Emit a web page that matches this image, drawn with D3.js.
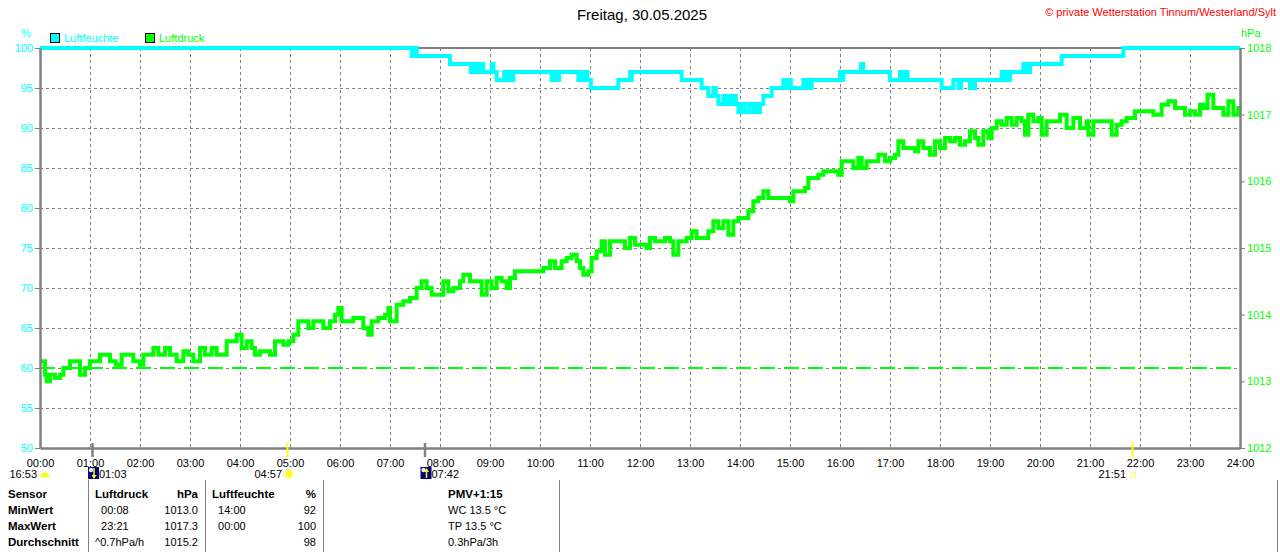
<!DOCTYPE html>
<html>
<head>
<meta charset="utf-8">
<script src="https://cdn.jsdelivr.net/npm/d3@7"></script>
<style>
  body { margin: 0; background: #fff; }
  svg { font-family: "Liberation Sans", Arial, sans-serif; display: block; }
  .grid line { stroke: #808080; stroke-width: 1; stroke-dasharray: 3,3; }
  .axis path, .axis line { stroke: #808080; }
  .axis text { font-size: 11px; }
  .table text { font-size: 11px; fill: #000; white-space: pre; }
  .table .bold { font-weight: bold; font-size: 11.5px; }
</style>
</head>
<body>
<svg id="chart" width="1280" height="552"></svg>
<script>
// ---- values ----
const titleText = 'Freitag, 30.05.2025';
const creditText = '\u00A9 private Wetterstation Tinnum/Westerland/Sylt';
const legendLabels = ['Luftfeuchte', 'Luftdruck'];

// humidity (%), each value holds from its time on
const humTimes = ['00:00', '07:26', '07:28', '07:30', '07:31', '07:32', '08:12', '08:37', '08:39', '08:41',
  '08:42', '08:44', '08:48', '08:52', '09:02', '09:04', '09:08', '09:17', '09:19', '09:23',
  '09:25', '09:28', '10:14', '10:17', '10:20', '10:23', '10:46', '10:49', '10:52', '10:55',
  '10:57', '11:01', '11:34', '11:48', '11:49', '11:50', '12:50', '13:14', '13:22', '13:28',
  '13:31', '13:34', '13:40', '13:43', '13:46', '13:49', '13:52', '13:55', '13:58', '14:02',
  '14:06', '14:11', '14:16', '14:19', '14:22', '14:24', '14:28', '14:38', '14:52', '14:54',
  '14:59', '15:01', '15:16', '15:18', '15:20', '15:24', '15:26', '16:00', '16:02', '16:04',
  '16:25', '16:28', '17:00', '17:12', '17:15', '17:18', '17:21', '18:02', '18:16', '18:22',
  '18:25', '18:36', '18:38', '18:40', '18:42', '19:14', '19:16', '19:19', '19:21', '19:24',
  '19:40', '19:42', '19:44', '19:46', '19:48', '20:26', '21:40', '24:00'];
const humValues = [100, 99, 100, 99, 100, 99, 98, 97, 98, 97,
  98, 97, 98, 97, 98, 97, 96, 97, 96, 97,
  96, 97, 96, 97, 96, 97, 96, 97, 96, 97,
  96, 95, 96, 97, 96, 97, 96, 95, 94, 95,
  94, 93, 94, 93, 94, 93, 94, 93, 92, 93,
  92, 93, 92, 93, 92, 93, 94, 95, 96, 95,
  96, 95, 96, 95, 96, 95, 96, 97, 96, 97,
  98, 97, 96, 97, 96, 97, 96, 95, 96, 95,
  96, 95, 96, 95, 96, 97, 96, 97, 96, 97,
  98, 97, 98, 97, 98, 99, 100, 100];

// air pressure (hPa)
const pressTimes = ['00:01', '00:06', '00:08', '00:12', '00:18', '00:24', '00:28', '00:36', '00:42', '00:48',
  '00:54', '01:00', '01:06', '01:12', '01:20', '01:24', '01:31', '01:38', '01:46', '01:52',
  '02:00', '02:04', '02:12', '02:16', '02:22', '02:30', '02:36', '02:44', '02:52', '02:58',
  '03:04', '03:12', '03:18', '03:26', '03:32', '03:38', '03:44', '03:52', '03:56', '04:02',
  '04:08', '04:14', '04:18', '04:24', '04:30', '04:36', '04:42', '04:52', '04:58', '05:04',
  '05:10', '05:16', '05:22', '05:28', '05:36', '05:40', '05:48', '05:54', '05:58', '06:02',
  '06:10', '06:16', '06:22', '06:28', '06:34', '06:38', '06:46', '06:54', '06:58', '07:00',
  '07:08', '07:16', '07:24', '07:32', '07:38', '07:44', '07:50', '07:58', '08:04', '08:10',
  '08:16', '08:24', '08:28', '08:36', '08:44', '08:50', '08:56', '09:02', '09:08', '09:14',
  '09:20', '09:24', '09:30', '09:36', '09:44', '09:52', '09:58', '10:04', '10:12', '10:18',
  '10:26', '10:32', '10:38', '10:44', '10:48', '10:52', '10:58', '11:02', '11:08', '11:14',
  '11:18', '11:24', '11:32', '11:38', '11:42', '11:48', '11:54', '12:02', '12:08', '12:12',
  '12:18', '12:24', '12:30', '12:36', '12:40', '12:46', '12:52', '12:56', '13:02', '13:08',
  '13:16', '13:22', '13:28', '13:34', '13:40', '13:46', '13:52', '13:58', '14:04', '14:10',
  '14:16', '14:22', '14:28', '14:34', '14:40', '14:48', '14:56', '15:00', '15:04', '15:12',
  '15:18', '15:22', '15:28', '15:34', '15:40', '15:48', '15:58', '16:02', '16:10', '16:16',
  '16:22', '16:26', '16:32', '16:40', '16:46', '16:54', '17:00', '17:06', '17:10', '17:16',
  '17:24', '17:30', '17:34', '17:40', '17:48', '17:54', '18:00', '18:06', '18:12', '18:18',
  '18:24', '18:30', '18:36', '18:42', '18:46', '18:52', '18:58', '19:02', '19:08', '19:14',
  '19:20', '19:26', '19:32', '19:38', '19:42', '19:46', '19:52', '19:58', '20:02', '20:08',
  '20:16', '20:24', '20:32', '20:40', '20:48', '20:56', '20:58', '21:04', '21:12', '21:20',
  '21:26', '21:32', '21:38', '21:44', '21:54', '22:02', '22:10', '22:16', '22:22', '22:26',
  '22:34', '22:42', '22:50', '22:54', '23:00', '23:06', '23:12', '23:16', '23:21', '23:28',
  '23:34', '23:40', '23:46', '23:52', '23:58', '24:00'];
const pressValues = [1013.3, 1013.1, 1013.0, 1013.1, 1013.05, 1013.1, 1013.2, 1013.3, 1013.3, 1013.1,
  1013.2, 1013.3, 1013.3, 1013.4, 1013.4, 1013.3, 1013.25, 1013.4, 1013.4, 1013.3,
  1013.25, 1013.4, 1013.4, 1013.5, 1013.4, 1013.5, 1013.4, 1013.3, 1013.45, 1013.4,
  1013.3, 1013.5, 1013.4, 1013.5, 1013.4, 1013.4, 1013.6, 1013.6, 1013.7, 1013.5,
  1013.6, 1013.5, 1013.4, 1013.45, 1013.45, 1013.4, 1013.6, 1013.55, 1013.6, 1013.7,
  1013.9, 1013.9, 1013.8, 1013.9, 1013.9, 1013.8, 1013.9, 1014.0, 1014.1, 1013.9,
  1013.9, 1013.95, 1013.95, 1013.8, 1013.7, 1013.9, 1013.95, 1014.0, 1014.1, 1013.9,
  1014.15, 1014.2, 1014.25, 1014.4, 1014.5, 1014.4, 1014.3, 1014.3, 1014.5, 1014.35,
  1014.4, 1014.5, 1014.6, 1014.5, 1014.5, 1014.3, 1014.5, 1014.4, 1014.55, 1014.5,
  1014.4, 1014.55, 1014.65, 1014.65, 1014.65, 1014.65, 1014.65, 1014.7, 1014.8, 1014.7,
  1014.8, 1014.85, 1014.9, 1014.8, 1014.7, 1014.6, 1014.65, 1014.85, 1014.95, 1015.1,
  1014.9, 1015.1, 1015.1, 1015.1, 1015.0, 1015.15, 1015.05, 1015.05, 1015.0, 1015.15,
  1015.1, 1015.1, 1015.15, 1015.1, 1014.9, 1015.1, 1015.1, 1015.15, 1015.25, 1015.15,
  1015.15, 1015.25, 1015.4, 1015.3, 1015.4, 1015.2, 1015.4, 1015.45, 1015.45, 1015.55,
  1015.7, 1015.75, 1015.85, 1015.75, 1015.75, 1015.75, 1015.75, 1015.7, 1015.85, 1015.85,
  1015.9, 1016.05, 1016.05, 1016.1, 1016.15, 1016.15, 1016.1, 1016.3, 1016.3, 1016.2,
  1016.35, 1016.2, 1016.3, 1016.3, 1016.4, 1016.3, 1016.35, 1016.4, 1016.6, 1016.5,
  1016.5, 1016.45, 1016.6, 1016.5, 1016.4, 1016.6, 1016.5, 1016.65, 1016.6, 1016.65,
  1016.55, 1016.6, 1016.75, 1016.65, 1016.55, 1016.75, 1016.65, 1016.8, 1016.9, 1016.85,
  1016.95, 1016.85, 1016.95, 1016.9, 1016.7, 1017.0, 1016.9, 1016.95, 1016.7, 1016.9,
  1016.9, 1017.0, 1016.8, 1016.95, 1016.8, 1016.9, 1016.7, 1016.9, 1016.9, 1016.9,
  1016.7, 1016.85, 1016.9, 1016.95, 1017.05, 1017.05, 1017.05, 1017.0, 1017.0, 1017.15,
  1017.2, 1017.1, 1017.1, 1017.0, 1017.05, 1017.0, 1017.15, 1017.1, 1017.3, 1017.1,
  1017.1, 1017.0, 1017.2, 1017.0, 1017.1, 1017.05];
const pressRef = 1013.2;

const hourTicks = d3.range(0, 25);
const humTicks = [50, 55, 60, 65, 70, 75, 80, 85, 90, 95, 100];
const pressTicks = [1012, 1013, 1014, 1015, 1016, 1017, 1018];

// sun / moon events under the time axis
const moonPrevTime = '16:53';
const astroTimes = ['01:03', '04:57', '07:42', '21:51'];
const astroKinds = ['moonset', 'sunrise', 'moonrise', 'sunset'];

// summary table
const tableRowLabels = ['Sensor', 'MinWert', 'MaxWert', 'Durchschnitt'];
const pressTableTimes = ['Luftdruck', '  00:08', '  23:21', '^0.7hPa/h'];
const pressTableValues = ['hPa', '1013.0', '1017.3', '1015.2'];
const humTableTimes = ['Luftfeuchte', '  14:00', '  00:00', ''];
const humTableValues = ['%', '92', '100', '98'];
const extraLines = ['PMV+1:15', 'WC 13.5 \u00B0C', 'TP 13.5 \u00B0C', '0.3hPa/3h'];

const parseTime = s => { const [h, m] = s.split(':').map(Number); return h * 60 + m; };

class WeatherDay {

    constructor(_config) {
        this.config = {
            parentElement: _config.parentElement,
            width: 1280,
            height: 552,
            margin: {top: 48, right: 40, bottom: 104, left: 40},
            humColor: '#00ffff',
            pressColor: '#00ff00',
            gridColor: '#808080'
        };
        this.initVis();
    }

    initVis() {
        let vis = this;
        const m = vis.config.margin;
        vis.innerW = vis.config.width - m.left - m.right;
        vis.innerH = vis.config.height - m.top - m.bottom;

        vis.humData = humTimes.map((t, i) => ({t: parseTime(t), v: humValues[i]}));
        vis.pressData = pressTimes.map((t, i) => ({t: parseTime(t), v: pressValues[i]}));

        vis.xScale = d3.scaleLinear().domain([0, 1440]).range([0, vis.innerW]);
        vis.yHum = d3.scaleLinear().domain([50, 100]).range([vis.innerH, 0]);
        vis.yPress = d3.scaleLinear().domain([1012, 1018]).range([vis.innerH, 0]);

        vis.svg = d3.select(vis.config.parentElement)
            .attr('width', vis.config.width)
            .attr('height', vis.config.height);

        vis.chart = vis.svg.append('g')
            .attr('transform', `translate(${m.left},${m.top})`);

        vis.renderVis();
        vis.renderHeader();
        vis.renderAstro();
        vis.renderTable();
    }

    renderVis() {
        let vis = this;
        const c = vis.config;

        // dashed grid
        const grid = vis.chart.append('g').attr('class', 'grid');
        grid.selectAll('.vgrid')
            .data(hourTicks.slice(1, -1))
            .join('line')
            .attr('x1', d => vis.xScale(d * 60) + 0.5).attr('x2', d => vis.xScale(d * 60) + 0.5)
            .attr('y1', 0).attr('y2', vis.innerH);
        grid.selectAll('.hgrid')
            .data(humTicks.slice(1, -1))
            .join('line')
            .attr('x1', 0).attr('x2', vis.innerW)
            .attr('y1', d => vis.yHum(d) + 0.5).attr('y2', d => vis.yHum(d) + 0.5);

        // top frame line
        vis.chart.append('line')
            .attr('x1', 0).attr('x2', vis.innerW)
            .attr('y1', 0).attr('y2', 0)
            .attr('stroke', c.gridColor).attr('stroke-width', 2);

        // pressure reference line
        vis.chart.append('line')
            .attr('x1', 0).attr('x2', vis.innerW)
            .attr('y1', vis.yPress(pressRef)).attr('y2', vis.yPress(pressRef))
            .attr('stroke', c.pressColor).attr('stroke-width', 2)
            .attr('stroke-dasharray', '15,9');

        const pressLine = d3.line()
            .x(d => vis.xScale(d.t))
            .y(d => vis.yPress(d.v))
            .curve(d3.curveStepAfter);
        vis.chart.append('path')
            .datum(vis.pressData)
            .attr('d', pressLine)
            .attr('fill', 'none')
            .attr('stroke', c.pressColor)
            .attr('stroke-width', 4);

        const humLine = d3.line()
            .x(d => vis.xScale(d.t))
            .y(d => vis.yHum(d.v))
            .curve(d3.curveStepAfter);
        vis.chart.append('path')
            .datum(vis.humData)
            .attr('d', humLine)
            .attr('fill', 'none')
            .attr('stroke', c.humColor)
            .attr('stroke-width', 4);

        // axes
        const yAxisL = d3.axisLeft(vis.yHum).tickValues(humTicks).tickFormat(d3.format('d'))
            .tickSize(5).tickPadding(2).tickSizeOuter(0);
        const gL = vis.chart.append('g').attr('class', 'axis').call(yAxisL);
        gL.select('.domain').attr('stroke-width', 2.5);
        gL.selectAll('text').attr('fill', c.humColor);

        const yAxisR = d3.axisRight(vis.yPress).tickValues(pressTicks).tickFormat(d3.format('d'))
            .tickSize(5).tickPadding(2).tickSizeOuter(0);
        const gR = vis.chart.append('g').attr('class', 'axis')
            .attr('transform', `translate(${vis.innerW},0)`)
            .call(yAxisR);
        gR.select('.domain').attr('stroke-width', 2.5);
        gR.selectAll('text').attr('fill', c.pressColor);

        const xAxis = d3.axisBottom(vis.xScale)
            .tickValues(hourTicks.map(h => h * 60))
            .tickFormat(d => d3.format('02')(d / 60) + ':00')
            .tickSize(0).tickPadding(11).tickSizeOuter(0);
        const gX = vis.chart.append('g').attr('class', 'axis')
            .attr('transform', `translate(0,${vis.innerH})`)
            .call(xAxis);
        gX.select('.domain').attr('stroke-width', 2.5);
        gX.selectAll('text').attr('fill', '#000');

        // unit labels
        vis.chart.append('text').attr('x', -14).attr('y', -11)
            .attr('text-anchor', 'middle').attr('font-size', 11)
            .attr('fill', c.humColor).text('%');
        vis.chart.append('text').attr('x', vis.innerW + 1).attr('y', -11)
            .attr('font-size', 11)
            .attr('fill', c.pressColor).text('hPa');

        // legend
        const legend = vis.chart.append('g').attr('transform', 'translate(10,-15)');
        const legColors = [c.humColor, c.pressColor];
        const legX = [0, 95];
        legendLabels.forEach((lab, i) => {
            legend.append('rect')
                .attr('x', legX[i] + 0.5).attr('y', 0.5)
                .attr('width', 9).attr('height', 9)
                .attr('fill', legColors[i]).attr('stroke', '#000');
            legend.append('text')
                .attr('x', legX[i] + 14).attr('y', 9)
                .attr('font-size', 11).attr('fill', legColors[i]).text(lab);
        });
    }

    renderHeader() {
        let vis = this;
        vis.svg.append('text')
            .attr('x', 642).attr('y', 20)
            .attr('text-anchor', 'middle')
            .attr('font-size', 15).attr('fill', '#000')
            .text(titleText);
        vis.svg.append('text')
            .attr('x', 1276).attr('y', 16)
            .attr('text-anchor', 'end')
            .attr('font-size', 11).attr('fill', '#ff0000')
            .text(creditText);
    }

    renderAstro() {
        let vis = this;
        const g = vis.chart.append('g').attr('transform', `translate(0,${vis.innerH})`);
        const rowY = 30;

        // moon of the previous day at the left edge
        g.append('text').attr('x', -3).attr('y', rowY)
            .attr('text-anchor', 'end').attr('font-size', 11).text(moonPrevTime);
        g.append('path')
            .attr('d', 'M0.5,29 a4.5,4.5 0 0 1 9,0 z')
            .attr('fill', '#ffff00');

        astroTimes.forEach((t, i) => {
            const kind = astroKinds[i];
            const x = vis.xScale(parseTime(t));
            const isSun = kind.startsWith('sun');
            g.append('line')
                .attr('x1', x).attr('x2', x).attr('y1', -5).attr('y2', 9)
                .attr('stroke', isSun ? '#ffff00' : '#808080')
                .attr('stroke-width', isSun ? 2 : 2.5);

            if (kind === 'moonset' || kind === 'moonrise') {
                const ix = x - 4.5;
                g.append('rect').attr('x', ix).attr('y', 19).attr('width', 11).attr('height', 12)
                    .attr('fill', '#000080');
                g.append('circle').attr('cx', ix + 3).attr('cy', 22).attr('r', 2.2).attr('fill', '#e8e8ff');
                const up = kind === 'moonrise';
                const ay0 = up ? 30 : 20, ay1 = up ? 23 : 28;
                g.append('line').attr('x1', ix + 6).attr('x2', ix + 6).attr('y1', ay0).attr('y2', ay1)
                    .attr('stroke', '#ffff00').attr('stroke-width', 1.5);
                g.append('path')
                    .attr('d', up ? `M${ix + 3.5},${ay1 + 1} L${ix + 6},${ay1 - 3} L${ix + 8.5},${ay1 + 1} Z`
                                  : `M${ix + 3.5},${ay1 - 1} L${ix + 6},${ay1 + 3} L${ix + 8.5},${ay1 - 1} Z`)
                    .attr('fill', '#ffff00');
                g.append('text').attr('x', x + 6.5).attr('y', rowY)
                    .attr('font-size', 11).text(t);
            } else if (kind === 'sunrise') {
                const cx = x + 1.5, cy = 26;
                g.append('circle').attr('cx', cx).attr('cy', cy).attr('r', 3.5).attr('fill', '#ffff00');
                d3.range(8).forEach(k => {
                    const a = k * Math.PI / 4;
                    g.append('line')
                        .attr('x1', cx + Math.cos(a) * 4.5).attr('y1', cy + Math.sin(a) * 4.5)
                        .attr('x2', cx + Math.cos(a) * 6).attr('y2', cy + Math.sin(a) * 6)
                        .attr('stroke', '#ffff00').attr('stroke-width', 1);
                });
                g.append('text').attr('x', x - 5.5).attr('y', rowY)
                    .attr('text-anchor', 'end').attr('font-size', 11).text(t);
            } else {
                g.append('rect').attr('x', x - 2).attr('y', 24.5).attr('width', 5).attr('height', 5)
                    .attr('fill', 'none').attr('stroke', '#ffff66').attr('stroke-width', 1);
                g.append('text').attr('x', x - 6.5).attr('y', rowY)
                    .attr('text-anchor', 'end').attr('font-size', 11).text(t);
            }
        });
    }

    renderTable() {
        let vis = this;
        const g = vis.svg.append('g').attr('class', 'table');
        const rowY = [498, 514, 530, 546];

        // column separators
        [88, 205, 323, 559, 1277].forEach(x => {
            g.append('line')
                .attr('x1', x + 0.5).attr('x2', x + 0.5).attr('y1', 480).attr('y2', 552)
                .attr('stroke', '#808080').attr('stroke-width', 1);
        });

        rowY.forEach((y, i) => {
            g.append('text').attr('class', 'bold').attr('x', 8).attr('y', y).text(tableRowLabels[i]);

            const head = i === 0 ? 'bold' : null;
            g.append('text').attr('class', head).attr('x', 95).attr('y', y).text(pressTableTimes[i]);
            g.append('text').attr('class', head).attr('x', 198).attr('y', y)
                .attr('text-anchor', 'end').text(pressTableValues[i]);
            g.append('text').attr('class', head).attr('x', 212).attr('y', y).text(humTableTimes[i]);
            g.append('text').attr('class', head).attr('x', 316).attr('y', y)
                .attr('text-anchor', 'end').text(humTableValues[i]);
            g.append('text').attr('class', head).attr('x', 448).attr('y', y).text(extraLines[i]);
        });
    }
}

new WeatherDay({parentElement: '#chart'});
</script>
</body>
</html>
